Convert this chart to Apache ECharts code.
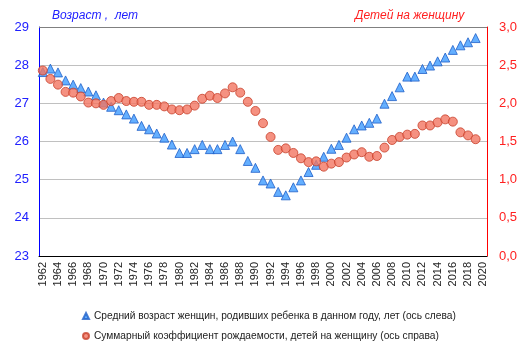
<!DOCTYPE html>
<html><head><meta charset="utf-8">
<script src="https://cdn.jsdelivr.net/npm/echarts@6/dist/echarts.min.js"></script>
<style>html,body{margin:0;padding:0;background:#fff}#c{width:525px;height:355px}</style>
</head><body><div id="c"></div>
<script>
var years = [];
for (var y = 1962; y <= 2020; y++) years.push(String(y));

var ageLabel = 'Средний возраст женщин, родивших ребенка в данном году, лет (ось слева)';
var tfrLabel = 'Суммарный коэффициент рождаемости, детей на женщину (ось справа)';

var ageValues = [
  27.82, 27.91, 27.81, 27.6, 27.49, 27.4, 27.31, 27.21, 27.02, 26.91,
  26.82, 26.71, 26.6, 26.41, 26.32, 26.21, 26.1, 25.92, 25.7, 25.7,
  25.8, 25.91, 25.8, 25.8, 25.91, 26.0, 25.8, 25.49, 25.31, 24.98,
  24.9, 24.68, 24.59, 24.8, 24.98, 25.2, 25.39, 25.6, 25.81, 25.91,
  26.1, 26.32, 26.42, 26.49, 26.6, 26.99, 27.19, 27.42, 27.7, 27.7,
  27.9, 27.99, 28.1, 28.2, 28.4, 28.52, 28.6, 28.71, null
];

var tfrValues = [
  2.43, 2.32, 2.245, 2.15, 2.14, 2.09, 2.01, 2.0, 1.98, 2.03,
  2.07, 2.03, 2.02, 2.02, 1.98, 1.98, 1.96, 1.92, 1.91, 1.92,
  1.97, 2.06, 2.10, 2.07, 2.13, 2.21, 2.14, 2.02, 1.90, 1.74,
  1.56, 1.39, 1.41, 1.35, 1.28, 1.23, 1.24, 1.17, 1.21, 1.23,
  1.29, 1.33, 1.36, 1.30, 1.31, 1.42, 1.52, 1.56, 1.59, 1.60,
  1.71, 1.71, 1.75, 1.79, 1.76, 1.62, 1.58, 1.53, null
];

var chart = echarts.init(document.getElementById('c'), null, {renderer: 'canvas'});
var FONT = 'Liberation Sans, Arial, sans-serif';
chart.setOption({
  animation: false,
  backgroundColor: '#fff',
  textStyle: {fontFamily: FONT},
  graphic: [
    {type: 'text', left: 52, top: 10, style: {text: 'Возраст ,  лет', fill: '#2020ff', font: 'italic 12px ' + FONT}},
    {type: 'text', left: 355, top: 10, style: {text: 'Детей на женщину', fill: '#ff2020', font: 'italic 12px ' + FONT}},
    {type: 'line', shape: {x1: 39, y1: 27.5, x2: 487, y2: 27.5}, style: {stroke: '#808080', lineWidth: 1}, z: 5}
  ],
  grid: {left: 39, right: 38, top: 27, bottom: 99, containLabel: false},
  legend: {
    orient: 'vertical', left: 77, top: 306, itemGap: 10,
    itemWidth: 6, itemHeight: 6,
    textStyle: {fontSize: 10.2, color: '#222', fontFamily: FONT},
    data: [ageLabel, tfrLabel]
  },
  xAxis: {
    type: 'category', data: years, boundaryGap: true,
    axisLine: {lineStyle: {color: '#000', width: 1}},
    axisTick: {show: false},
    axisLabel: {rotate: 90, interval: 1, fontSize: 11, color: '#222', margin: 6, fontFamily: FONT}
  },
  yAxis: [
    {type: 'value', min: 23, max: 29, interval: 1, position: 'left',
     axisLine: {show: true, lineStyle: {color: '#0000ff', width: 1}},
     axisTick: {show: false},
     axisLabel: {fontSize: 13, color: '#2020ff', margin: 10, fontFamily: FONT},
     splitLine: {lineStyle: {color: '#c0c0c0', width: 1}}},
    {type: 'value', min: 0, max: 3, interval: 0.5, position: 'right',
     axisLine: {show: true, lineStyle: {color: '#ff0000', width: 1}},
     axisTick: {show: false},
     axisLabel: {fontSize: 13, color: '#ff2020', margin: 12, fontFamily: FONT,
       formatter: function (v) { return v.toFixed(1).replace('.', ','); }},
     splitLine: {show: false}}
  ],
  series: [
    {name: ageLabel, type: 'scatter', yAxisIndex: 0, data: ageValues,
     symbol: 'triangle', symbolSize: 9,
     itemStyle: {color: '#3d9bff', borderColor: '#1f5fc8', borderWidth: 1}},
    {name: tfrLabel, type: 'scatter', yAxisIndex: 1, data: tfrValues,
     symbol: 'circle', symbolSize: 9,
     itemStyle: {color: '#f37561', borderColor: '#c8402a', borderWidth: 1}}
  ]
});
</script></body></html>
